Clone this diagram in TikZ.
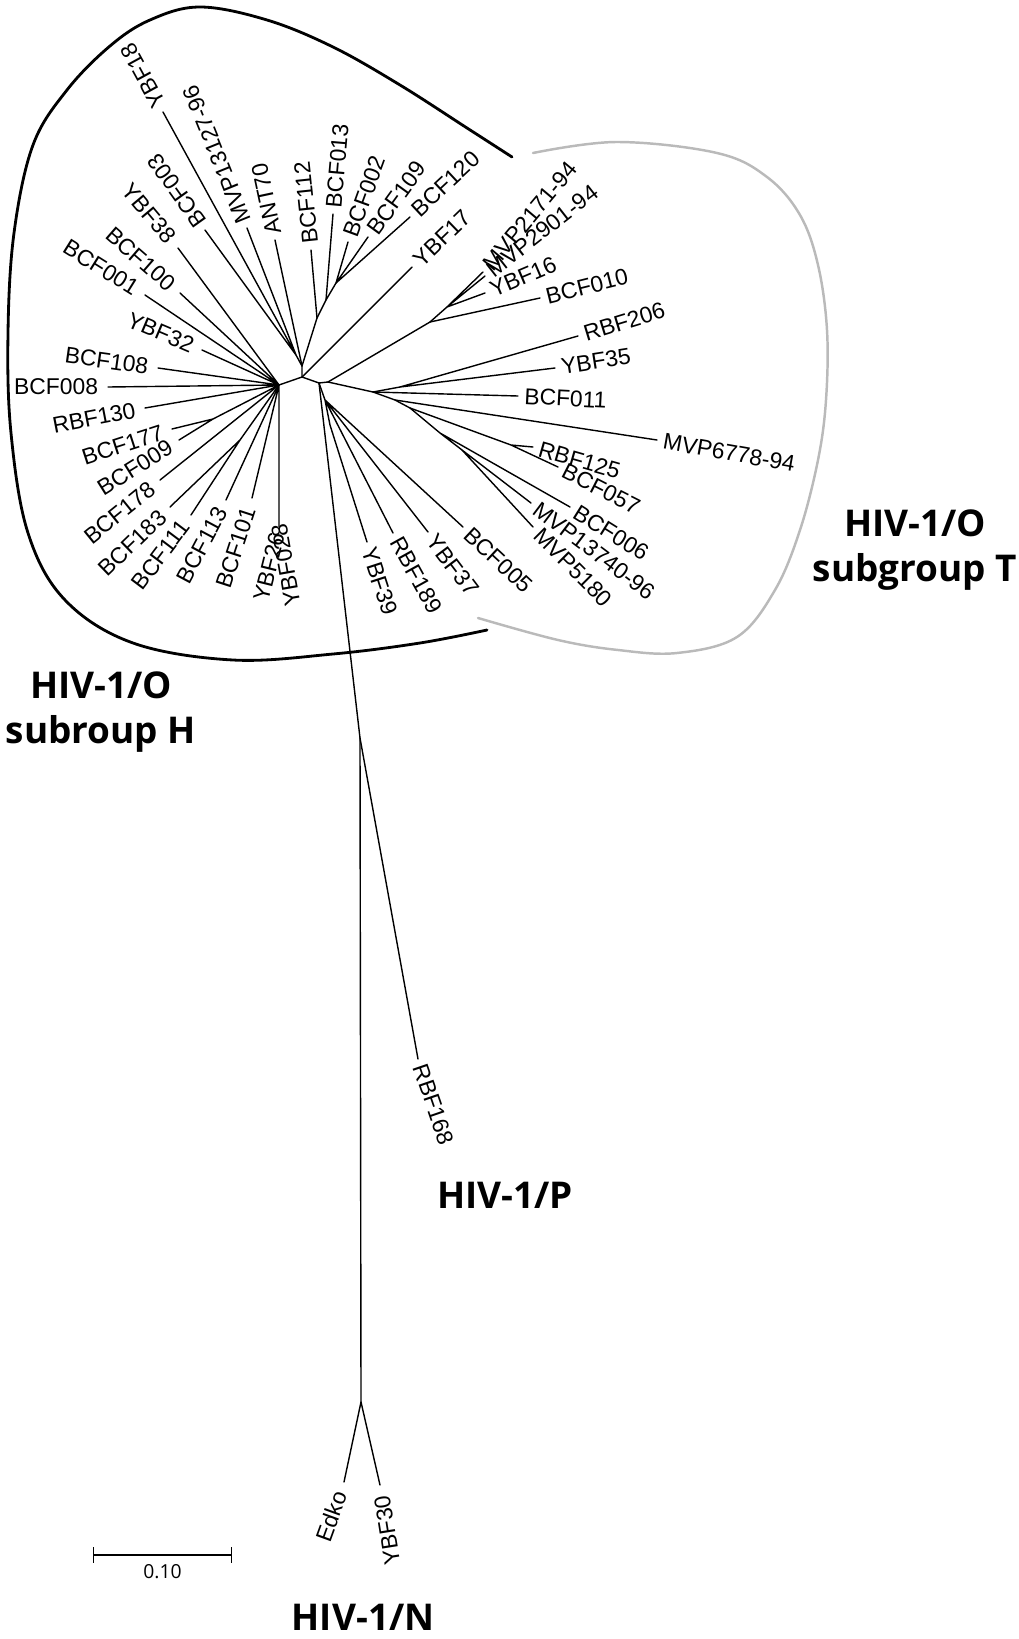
\documentclass[tikz,border=0pt]{standalone}
\usepackage{fontspec}
\setmainfont{Liberation Sans}
\newfontfamily\grpfont{Open Sans}
\usetikzlibrary{arrows.meta}

\begin{document}
\begin{tikzpicture}[x=0.02cm, y=-0.02cm]
    \tikzstyle{branch} = [line width=0.8pt, line cap=round, line join=round]
    \tikzstyle{taxon} = [font=\fontsize{13pt}{15pt}\selectfont, inner sep=3.5pt]
    \tikzstyle{outtip} = [taxon, anchor=west]
    \tikzstyle{intip} = [taxon, anchor=east, inner sep=5.5pt]
    \tikzstyle{hull} = [line width=1.6pt, line cap=round]
    \tikzstyle{group} = [font=\grpfont\bfseries\fontsize{21pt}{25.5pt}\selectfont, align=center]

    \useasboundingbox (0,0) rectangle (1018,1639);

    % inner nodes of the tree
    \coordinate (HL) at (279,385);
    \coordinate (HT0) at (302,377);
    \coordinate (HR) at (319,383);
    \coordinate (HR2) at (328,382);
    \coordinate (HT) at (302,366);
    \coordinate (G1) at (296,355);
    \coordinate (G2) at (317,318);
    \coordinate (G3) at (326,300);
    \coordinate (G4) at (336,283);
    \coordinate (M1) at (430,322);
    \coordinate (M2) at (447,307);
    \coordinate (R) at (373,392);
    \coordinate (R2) at (400,387);
    \coordinate (T1) at (395,400);
    \coordinate (T2) at (410,408);
    \coordinate (P2) at (511,445);
    \coordinate (U) at (440,433);
    \coordinate (U2) at (462,450);
    \coordinate (B1) at (325,400);
    \coordinate (B2) at (330,425);
    \coordinate (P1) at (213,419);
    \coordinate (P3) at (240,440);
    \coordinate (K) at (360,738);
    \coordinate (N) at (361,1402);

    % tips
    \coordinate (ybf18) at (163,112);
    \coordinate (bcf003) at (205,230);
    \coordinate (mvp13127) at (247,228);
    \coordinate (ant70) at (275,240);
    \coordinate (bcf112) at (311,250);
    \coordinate (bcf013) at (333,214);
    \coordinate (bcf002) at (348,242);
    \coordinate (bcf109) at (368,237);
    \coordinate (bcf120) at (410,217);
    \coordinate (ybf17) at (412,267);
    \coordinate (mvp2171) at (483,272);
    \coordinate (mvp2901) at (485,276);
    \coordinate (ybf16) at (485,293);
    \coordinate (bcf010) at (540,298);
    \coordinate (rbf206) at (578,336);
    \coordinate (ybf35) at (555,368);
    \coordinate (bcf011) at (518,396);
    \coordinate (mvp6778) at (657,440);
    \coordinate (rbf125) at (533,447);
    \coordinate (bcf057) at (558,467);
    \coordinate (bcf006) at (570,507);
    \coordinate (mvp13740) at (531,503);
    \coordinate (mvp5180) at (533,527);
    \coordinate (bcf005) at (463,527);
    \coordinate (ybf37) at (428,532);
    \coordinate (rbf189) at (393,533);
    \coordinate (ybf39) at (367,542);
    \coordinate (ybf26) at (279,527);
    \coordinate (bcf101) at (252,498);
    \coordinate (bcf113) at (226,500);
    \coordinate (bcf111) at (191,515);
    \coordinate (bcf183) at (170,507);
    \coordinate (bcf178) at (160,480);
    \coordinate (bcf009) at (179,440);
    \coordinate (bcf177) at (172,429);
    \coordinate (rbf130) at (145,408);
    \coordinate (bcf008) at (108,387);
    \coordinate (bcf108) at (158,368);
    \coordinate (ybf32) at (202,350);
    \coordinate (bcf001) at (145,295);
    \coordinate (bcf100) at (180,293);
    \coordinate (ybf38) at (178,248);
    \coordinate (rbf168) at (418,1059);
    \coordinate (edko) at (344,1482);
    \coordinate (ybf30) at (380,1485);

    % cluster outlines
    \draw [hull] plot [smooth, tension=0.6] coordinates {(512,157) (467,128) (400,85) (333,47) (267,20) (200,7) (150,20) (110,46) (67,90) (33,145) (14,233) (8,333) (11,433) (28,533) (65,600) (133,643) (233,660) (333,654) (420,643) (487,630)};
    \draw [hull, black!27, line width=1.4pt] plot [smooth, tension=0.6] coordinates {(533,153) (617,142) (717,153) (767,177) (800,215) (818,265) (827,330) (826,400) (818,460) (800,530) (775,590) (737,637) (677,653) (618,650) (558,640) (478,618)};

    % branches
    \draw [branch] (HL) -- (HT0) -- (HR) -- (HR2);
    \draw [branch] (HT0) -- (HT) -- (G1);
    \draw [branch] (G1) -- (ybf18) (G1) -- (bcf003) (G1) -- (mvp13127);
    \draw [branch] (HT) -- (ant70);
    \draw [branch] (HT) -- (G2) -- (G3) -- (G4);
    \draw [branch] (G2) -- (bcf112) (G3) -- (bcf013);
    \draw [branch] (G4) -- (bcf002) (G4) -- (bcf109) (G4) -- (bcf120);
    \draw [branch] (HT0) -- (ybf17);
    \draw [branch] (HR2) -- (M1) -- (M2);
    \draw [branch] (M1) -- (bcf010) (M2) -- (ybf16) (M2) -- (mvp2171) (M2) -- (mvp2901);
    \draw [branch] (HR2) -- (R) -- (R2);
    \draw [branch] (R) -- (bcf011) (R2) -- (ybf35) (R2) -- (rbf206);
    \draw [branch] (R) -- (T1) -- (mvp6778);
    \draw [branch] (T1) -- (T2) -- (P2) -- (rbf125) (P2) -- (bcf057);
    \draw [branch] (T2) -- (U) -- (bcf006) (U) -- (U2) -- (mvp13740) (U2) -- (mvp5180);
    \draw [branch] (HR) -- (B1) -- (bcf005) (B1) -- (ybf37) (B1) -- (rbf189) (B1) -- (B2) -- (ybf39);
    \draw [branch] (HR) -- (K) -- (N);
    \draw [branch] (K) -- (rbf168);
    \draw [branch] (N) -- (edko) (N) -- (ybf30);
    \draw [branch] (HL) -- (bcf008) (HL) -- (bcf108) (HL) -- (ybf32) (HL) -- (bcf001) (HL) -- (bcf100) (HL) -- (ybf38);
    \draw [branch] (HL) -- (rbf130) (HL) -- (P1) -- (bcf177) (P1) -- (bcf009) (HL) -- (bcf178);
    \draw [branch] (HL) -- (P3) -- (bcf183) (P3) -- (bcf111);
    \draw [branch] (HL) -- (bcf113) (HL) -- (bcf101) (HL) -- (ybf26);

    % tip labels
    \node [outtip, rotate=118.7] (ybf18l) at (ybf18) {YBF18};
    \node [outtip, rotate=125.5] (bcf003l) at (bcf003) {BCF003};
    \node [outtip, rotate=112] (mvp13127l) at (mvp13127) {MVP13127-96};
    \node [outtip, rotate=102] (ant70l) at (ant70) {ANT70};
    \node [outtip, rotate=96] (bcf112l) at (bcf112) {BCF112};
    \node [outtip, rotate=85] (bcf013l) at (bcf013) {BCF013};
    \node [outtip, rotate=70] (bcf002l) at (bcf002) {BCF002};
    \node [outtip, rotate=54] (bcf109l) at (bcf109) {BCF109};
    \node [outtip, rotate=43] (bcf120l) at (bcf120) {BCF120};
    \node [outtip, rotate=44] (ybf17l) at (ybf17) {YBF17};
    \node [outtip, rotate=50] (mvp2171l) at (mvp2171) {MVP2171-94};
    \node [outtip, rotate=38] (mvp2901l) at (mvp2901) {MVP2901-94};
    \node [outtip, rotate=23] (ybf16l) at (ybf16) {YBF16};
    \node [outtip, rotate=14] (bcf010l) at (bcf010) {BCF010};
    \node [outtip, rotate=17] (rbf206l) at (rbf206) {RBF206};
    \node [outtip, rotate=9] (ybf35l) at (ybf35) {YBF35};
    \node [outtip, rotate=-3] (bcf011l) at (bcf011) {BCF011};
    \node [outtip, rotate=-10] (mvp6778l) at (mvp6778) {MVP6778-94};
    \node [outtip, rotate=-16] (rbf125l) at (rbf125) {RBF125};
    \node [outtip, rotate=-27] (bcf057l) at (bcf057) {BCF057};
    \node [outtip, rotate=-32] (bcf006l) at (bcf006) {BCF006};
    \node [outtip, rotate=-37] (mvp13740l) at (mvp13740) {MVP13740-96};
    \node [outtip, rotate=-45] (mvp5180l) at (mvp5180) {MVP5180};
    \node [outtip, rotate=-43] (bcf005l) at (bcf005) {BCF005};
    \node [outtip, rotate=-53] (ybf37l) at (ybf37) {YBF37};
    \node [outtip, rotate=-61] (rbf189l) at (rbf189) {RBF189};
    \node [outtip, rotate=-72] (ybf39l) at (ybf39) {YBF39};
    \node [outtip, rotate=-71] (rbf168l) at (rbf168) {RBF168};
    \node [intip, rotate=76, inner sep=3.5pt] (ybf26l) at (ybf26) {YBF26};
    \node [intip, rotate=100, inner sep=3.5pt, xshift=5pt] (ybf028l) at (ybf26) {YBF028};
    \node [intip, rotate=72] (bcf101l) at (bcf101) {BCF101};
    \node [intip, rotate=62] (bcf113l) at (bcf113) {BCF113};
    \node [intip, rotate=53] (bcf111l) at (bcf111) {BCF111};
    \node [intip, rotate=44] (bcf183l) at (bcf183) {BCF183};
    \node [intip, rotate=39] (bcf178l) at (bcf178) {BCF178};
    \node [intip, rotate=32] (bcf009l) at (bcf009) {BCF009};
    \node [intip, rotate=18] (bcf177l) at (bcf177) {BCF177};
    \node [intip, rotate=11] (rbf130l) at (rbf130) {RBF130};
    \node [intip] (bcf008l) at (bcf008) {BCF008};
    \node [intip, rotate=-8] (bcf108l) at (bcf108) {BCF108};
    \node [intip, rotate=-23] (ybf32l) at (ybf32) {YBF32};
    \node [intip, rotate=-32] (bcf001l) at (bcf001) {BCF001};
    \node [intip, rotate=-41] (bcf100l) at (bcf100) {BCF100};
    \node [intip, rotate=-50] (ybf38l) at (ybf38) {YBF38};
    \node [intip, rotate=70, inner sep=6pt] (edkol) at (edko) {Edko};
    \node [intip, rotate=99, inner sep=6pt] (ybf30l) at (ybf30) {YBF30};

    % scale bar
    \coordinate (s0) at (93,1555);
    \coordinate (s1) at (232,1555);
    \draw [line width=0.7pt, {Bar[width=9pt]}-{Bar[width=9pt]}] (s0) -- node [below, inner sep=5pt, font=\grpfont\fontsize{11pt}{13pt}\selectfont] (scalel) {0.10} (s1);

    % group names
    \node [group] (grpH) at (101,712) {HIV-1/O\\subroup H};
    \node [group] (grpT) at (915,550) {HIV-1/O\\subgroup T};
    \node [group] (grpP) at (505,1195) {HIV-1/P};
    \node [group] (grpN) at (363,1617) {HIV-1/N};
\end{tikzpicture}
\end{document}
